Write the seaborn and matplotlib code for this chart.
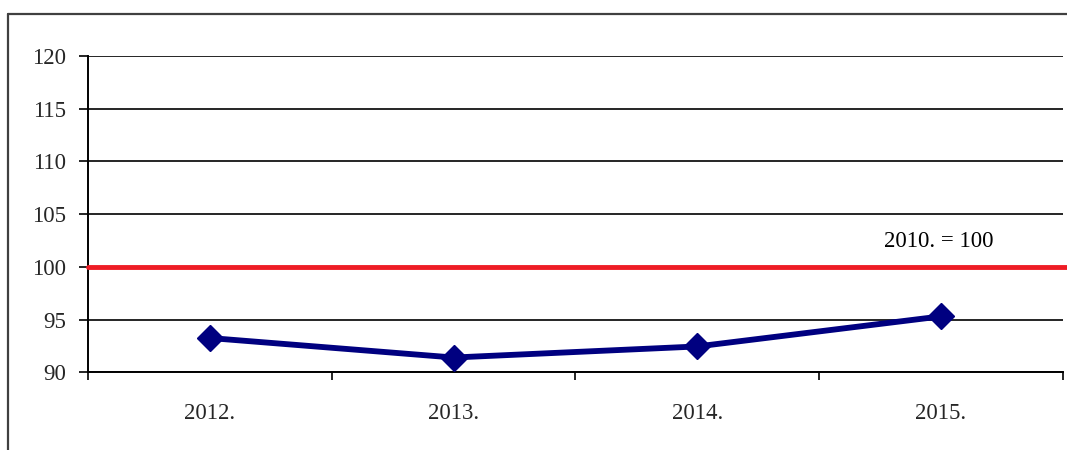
import matplotlib
matplotlib.use("Agg")
import matplotlib.pyplot as plt
import matplotlib.transforms as mtransforms
from matplotlib.lines import Line2D
import seaborn as sns
import pandas as pd

# Index values (2010 = 100)
years = ["2012.", "2013.", "2014.", "2015."]
index_values = [93.25, 91.4, 92.45, 95.3]
base_value = 100
base_label = "2010. = 100"
y_ticks = [90, 95, 100, 105, 110, 115, 120]

sns.set_style("white")
plt.rcParams["font.family"] = ["Liberation Serif", "DejaVu Serif"]

df = pd.DataFrame({"pos": range(len(years)), "value": index_values})

fig = plt.figure(figsize=(10.67, 4.5), dpi=100)
ax = fig.add_axes([0.0825, 0.1727, 0.9135, 0.7029])

# Horizontal grid lines
for yv in y_ticks:
    ax.axhline(yv, color="black", lw=1.2, zorder=1)

# Base-year reference line, running past the plot's right edge
trans = mtransforms.blended_transform_factory(ax.transAxes, ax.transData)
ax.add_line(Line2D([0, 1.01], [base_value, base_value], transform=trans,
                   color="#ee1c25", lw=3.5, clip_on=False, zorder=3))

sns.lineplot(data=df, x="pos", y="value", ax=ax, color="#000080", lw=4.2,
             marker="D", markersize=13, markeredgecolor="#000080",
             markeredgewidth=1, zorder=4)

ax.text(2.99, 102.4, base_label, ha="center", va="center", fontsize=16.5,
        color="black")

ax.set_xlim(-0.5, len(years) - 0.5)
ax.set_ylim(90, 120)
ax.set_yticks(y_ticks)
ax.set_yticklabels([str(v) for v in y_ticks], fontsize=16.5)
ax.set_xticks([i - 0.5 for i in range(len(years) + 1)])
ax.set_xticklabels([])
ax.set_xticks(range(len(years)), minor=True)
ax.set_xticklabels(years, minor=True, fontsize=16.5)
ax.tick_params(axis="y", which="major", direction="out", length=6.5,
               width=1.2, color="black", pad=9, left=True)
ax.tick_params(axis="x", which="major", direction="out", length=6,
               width=1.2, color="black", bottom=True)
ax.tick_params(axis="x", which="minor", length=0, pad=22)
ax.set_xlabel("")
ax.set_ylabel("")

for side in ["top", "right"]:
    ax.spines[side].set_visible(False)
for side in ["left", "bottom"]:
    ax.spines[side].set_color("black")
    ax.spines[side].set_linewidth(1.4)

# Outer chart frame (left and top edges)
frame_x = 8 / 1067
frame_y = 1 - 14 / 450
fig.add_artist(Line2D([frame_x, frame_x], [0, frame_y], transform=fig.transFigure,
                      color="#404040", lw=1.6))
fig.add_artist(Line2D([frame_x, 1], [frame_y, frame_y], transform=fig.transFigure,
                      color="#404040", lw=1.6))

fig.savefig("out.png", dpi=100)
